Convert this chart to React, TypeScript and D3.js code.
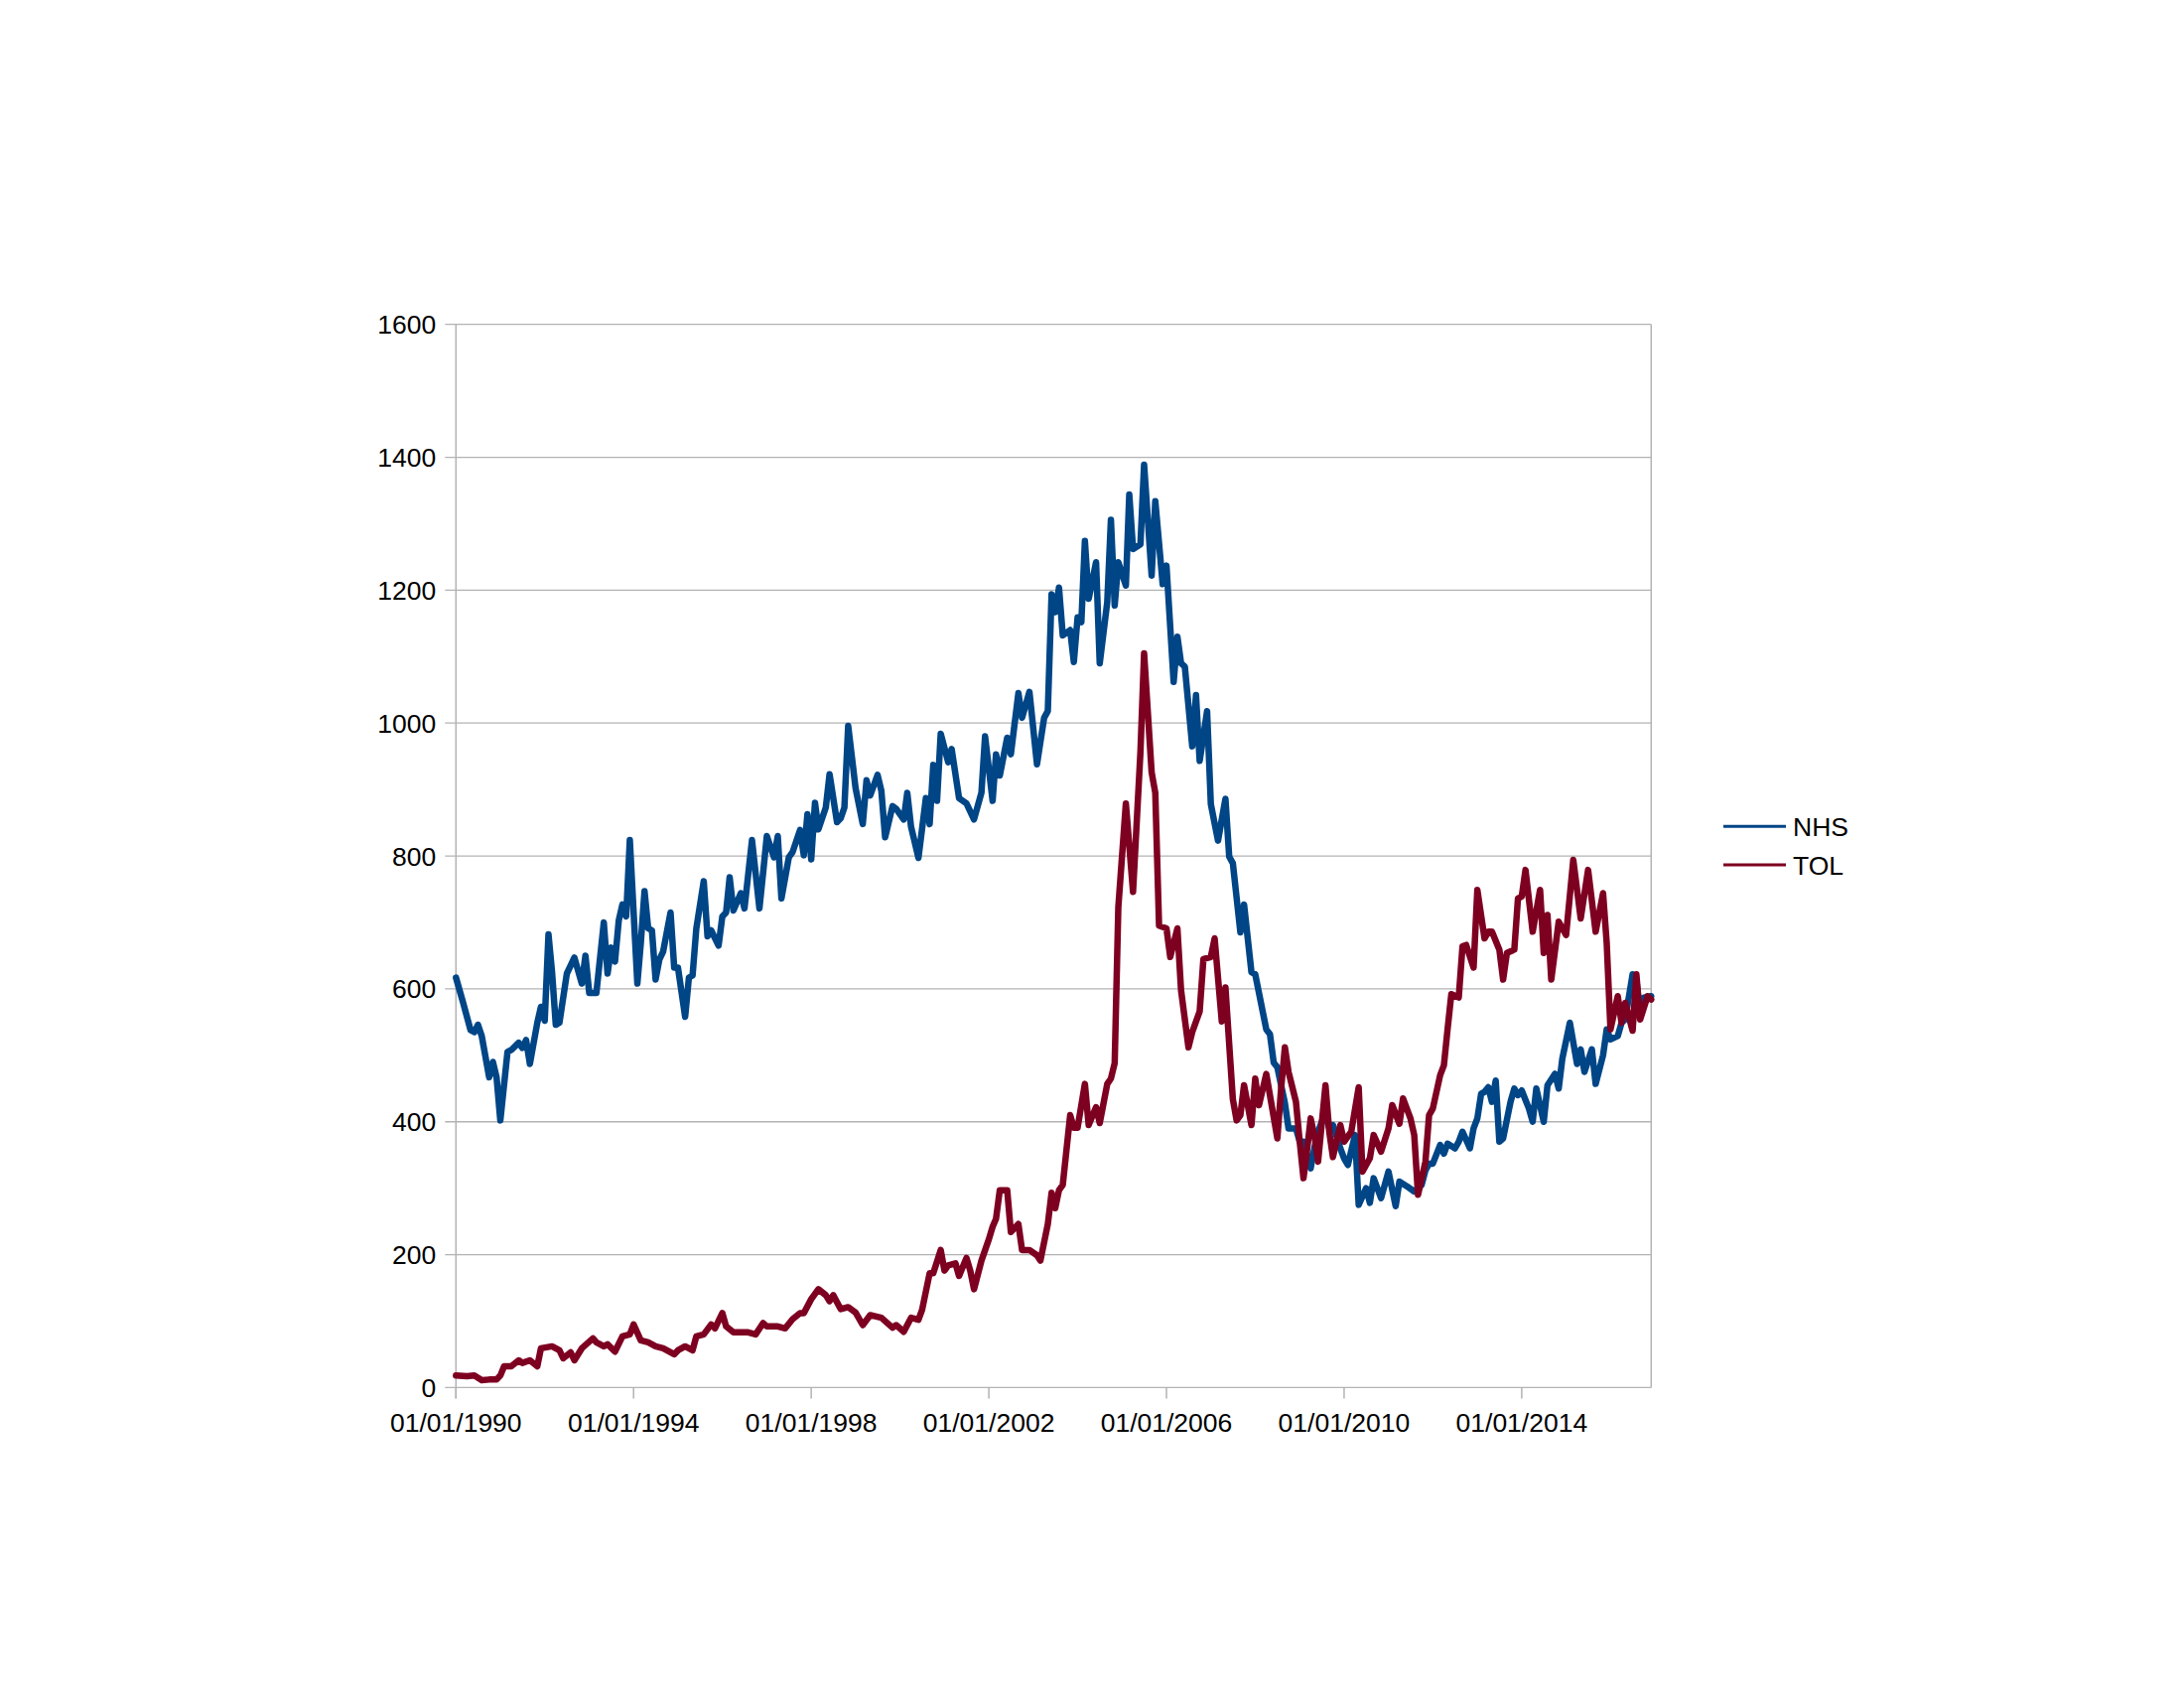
import React from "react";
import * as d3 from "d3";

// [months since Jan 1990, value]
const nhsData: [number, number][] = [
  [0,617],[2,579],[4,538],[5,535],[6,546],[7,529],[9,467],[10,490],[11,467],[12,402],[14,505],[15,508],[17,519],[18,511],[19,523],[20,487],[22,549],[23,573],[24,552],[25,682],[26,626],[27,546],[28,549],[30,623],[32,647],[34,608],[35,650],[36,594],[38,594],[40,700],[41,623],[42,662],[43,641],[44,703],[45,727],[46,709],[47,824],[49,608],[50,668],[51,747],[52,691],[53,688],[54,614],[55,644],[56,656],[58,715],[59,632],[60,632],[62,558],[63,617],[64,620],[65,691],[67,762],[68,679],[69,688],[71,665],[72,709],[73,715],[74,768],[75,718],[77,744],[78,721],[80,824],[82,721],[83,774],[84,830],[86,798],[87,830],[88,736],[90,798],[91,806],[93,839],[94,801],[95,863],[96,795],[97,880],[98,840],[100,873],[101,923],[103,851],[104,857],[105,873],[106,996],[108,902],[110,848],[111,914],[112,891],[114,922],[115,898],[116,828],[118,875],[119,871],[121,855],[122,895],[123,844],[125,797],[127,887],[128,848],[129,937],[130,883],[131,984],[133,941],[134,961],[136,887],[138,879],[140,855],[142,895],[143,980],[145,883],[146,953],[147,921],[149,978],[150,953],[152,1045],[153,1008],[155,1047],[157,938],[159,1008],[160,1018],[161,1194],[162,1167],[163,1204],[164,1132],[166,1140],[167,1092],[168,1159],[169,1152],[170,1274],[171,1187],[173,1242],[174,1090],[176,1182],[177,1306],[178,1177],[179,1242],[181,1207],[182,1344],[183,1262],[185,1269],[186,1389],[188,1222],[189,1334],[191,1209],[192,1237],[194,1062],[195,1130],[196,1090],[197,1085],[199,965],[200,1042],[201,943],[203,1018],[204,878],[206,823],[208,886],[209,799],[210,789],[212,685],[213,727],[215,625],[216,622],[219,539],[220,532],[221,489],[222,482],[224,428],[225,390],[227,390],[228,370],[229,370],[231,330],[232,360],[233,385],[235,415],[236,390],[237,395],[239,360],[240,345],[241,335],[243,380],[244,275],[246,300],[247,278],[248,315],[250,285],[252,325],[254,273],[255,310],[257,303],[259,295],[261,305],[262,327],[263,337],[264,337],[266,365],[267,352],[268,367],[270,360],[271,370],[272,385],[274,360],[275,390],[276,405],[277,442],[278,445],[279,452],[280,430],[281,462],[282,370],[283,375],[285,430],[286,450],[287,440],[288,447],[290,420],[291,400],[292,450],[294,400],[295,455],[297,472],[298,450],[299,495],[301,549],[303,487],[304,509],[305,475],[307,509],[308,457],[310,500],[311,539],[312,524],[314,529],[315,549],[316,554],[318,622],[319,614],[320,559],[321,587],[323,589]
];

const tolData: [number, number][] = [
  [0,18],[3,17],[5,18],[7,11],[9,12],[11,12],[12,18],[13,32],[15,32],[17,41],[18,37],[20,41],[22,32],[23,59],[26,62],[28,56],[29,44],[31,53],[32,41],[34,59],[37,74],[38,68],[40,62],[41,65],[43,54],[45,77],[47,80],[48,95],[50,71],[52,68],[54,62],[56,59],[59,50],[60,56],[62,62],[64,56],[65,77],[67,80],[69,95],[70,89],[72,112],[73,92],[75,83],[77,83],[79,83],[81,80],[83,97],[84,92],[87,92],[89,89],[91,103],[93,112],[94,112],[96,133],[98,148],[100,139],[101,130],[102,139],[104,118],[106,121],[108,113],[110,94],[112,109],[115,105],[118,90],[119,94],[121,84],[123,105],[125,102],[126,117],[128,172],[129,172],[131,207],[132,176],[133,184],[135,187],[136,168],[138,195],[139,176],[140,148],[142,191],[144,223],[145,242],[146,254],[147,297],[149,297],[150,234],[152,246],[153,207],[155,207],[157,199],[158,191],[160,246],[161,293],[162,270],[163,297],[164,305],[166,410],[167,391],[168,391],[170,457],[171,395],[173,422],[174,398],[176,457],[177,465],[178,488],[179,723],[181,879],[183,746],[185,957],[186,1105],[188,926],[189,895],[190,695],[192,691],[193,648],[195,691],[196,598],[198,512],[199,535],[201,566],[202,645],[204,648],[205,676],[207,551],[208,602],[210,434],[211,402],[212,410],[213,455],[215,395],[216,465],[217,425],[219,472],[220,440],[222,375],[223,450],[224,512],[225,475],[227,430],[228,370],[229,315],[230,355],[231,405],[232,380],[233,340],[235,455],[236,385],[237,347],[239,395],[240,370],[242,385],[244,452],[245,325],[247,345],[248,380],[250,355],[252,390],[253,425],[255,397],[256,435],[258,405],[259,380],[260,290],[262,340],[263,410],[264,420],[266,470],[267,485],[268,539],[269,592],[271,587],[272,664],[273,666],[275,632],[276,749],[278,676],[279,686],[280,686],[282,659],[283,614],[284,654],[286,659],[287,736],[288,739],[289,779],[291,686],[293,749],[294,654],[295,711],[296,614],[298,701],[300,681],[302,794],[304,706],[306,779],[308,686],[310,744],[311,669],[312,539],[314,589],[315,549],[316,579],[318,537],[319,622],[320,554],[322,589],[323,584]
];

const seriesNames = ["NHS", "TOL"];
const seriesColors = ["#004586", "#7e0021"];
const yTicks = [0, 200, 400, 600, 800, 1000, 1200, 1400, 1600];
const xTickYears = [1990, 1994, 1998, 2002, 2006, 2010, 2014];

const start = new Date(1990, 0, 1);
const end = new Date(2016, 11, 1);
const toDate = (m: number) => d3.timeMonth.offset(start, m);

export default function App() {
  const W = 2200, H = 1700;
  const left = 459.3, right = 1663.3, top = 326.7, bottom = 1397.4;
  const x = d3.scaleTime().domain([start, end]).range([left, right]);
  const y = d3.scaleLinear().domain([0, 1600]).range([bottom, top]);
  const line = d3
    .line<[number, number]>()
    .x((d) => x(toDate(d[0])))
    .y((d) => y(d[1]));
  const font = "'Liberation Sans', Arial, sans-serif";
  const fs = 26.5;
  const grid = "#b3b3b3";
  const series = [nhsData, tolData];

  return (
    <svg width={W} height={H} style={{ position: "absolute", left: 0, top: 0, background: "#fff" }}>
      <rect x={0} y={0} width={W} height={H} fill="#fff" />
      {yTicks.map((t) => (
        <g key={t}>
          <line x1={left - 11} x2={right} y1={y(t)} y2={y(t)} stroke={grid} strokeWidth={1.3} />
          <text x={left - 20} y={y(t) + 9.5} textAnchor="end" fontFamily={font} fontSize={fs} fill="#000">
            {t}
          </text>
        </g>
      ))}
      <line x1={left} x2={left} y1={top} y2={bottom + 11} stroke={grid} strokeWidth={1.5} />
      <line x1={right} x2={right} y1={top} y2={bottom} stroke={grid} strokeWidth={1.5} />
      {xTickYears.map((yr) => {
        const xx = x(new Date(yr, 0, 1));
        return (
          <g key={yr}>
            <line x1={xx} x2={xx} y1={bottom} y2={bottom + 11} stroke={grid} strokeWidth={1.5} />
            <text x={xx} y={1441.5} textAnchor="middle" fontFamily={font} fontSize={fs} fill="#000">
              {`01/01/${yr}`}
            </text>
          </g>
        );
      })}
      {series.map((s, i) => (
        <path
          key={seriesNames[i]}
          d={line(s) || ""}
          fill="none"
          stroke={seriesColors[i]}
          strokeWidth={6.5}
          strokeLinejoin="round"
          strokeLinecap="round"
        />
      ))}
      {seriesNames.map((n, i) => {
        const ly = 832.3 + i * 38.7;
        return (
          <g key={n}>
            <line x1={1736} x2={1799} y1={ly} y2={ly} stroke={seriesColors[i]} strokeWidth={3} />
            <text x={1806} y={ly + 9.5} fontFamily={font} fontSize={fs} fill="#000">
              {n}
            </text>
          </g>
        );
      })}
    </svg>
  );
}
